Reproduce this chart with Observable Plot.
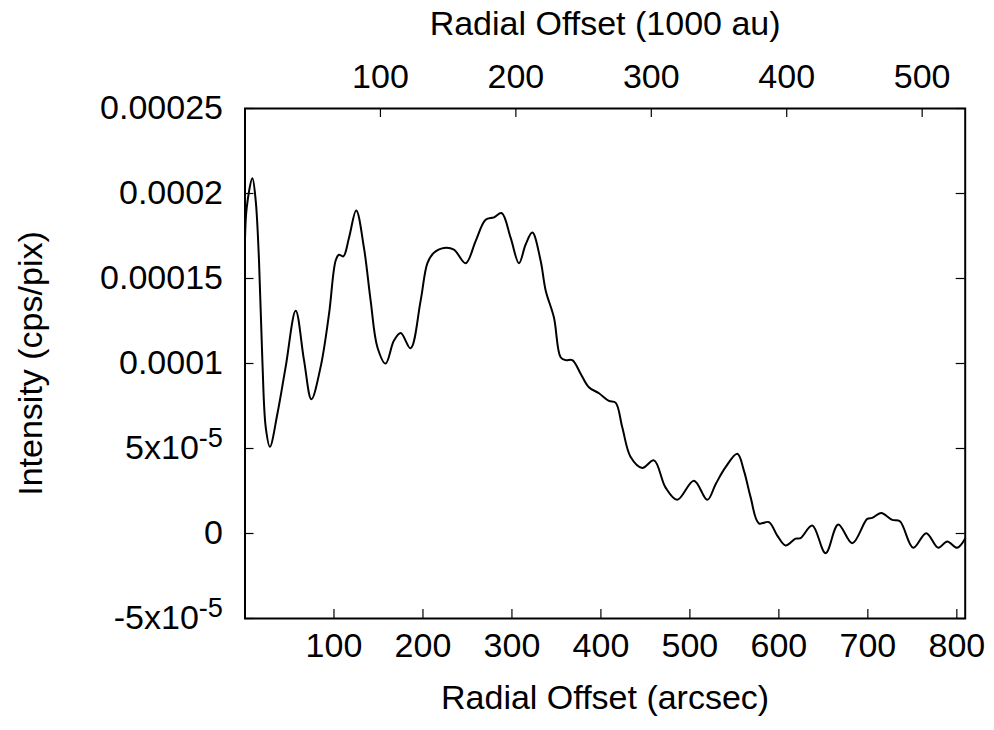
<!DOCTYPE html>
<html>
<head>
<meta charset="utf-8">
<script src="https://cdn.jsdelivr.net/npm/d3@7"></script>
<script src="https://cdn.jsdelivr.net/npm/@observablehq/plot@0.6"></script>
<style>
  html, body { margin: 0; padding: 0; background: #fff; }
  #chart svg { display: block; }
</style>
</head>
<body>
<div id="chart"></div>
<script>
// Radial offset (arcsec)
const offsetArcsec = [
  0, 2, 8.3, 12, 15.7, 19.5, 23.3, 28, 36.4, 45.7, 57, 66.3, 74.6, 85, 94.4,
  101.9, 105.6, 110.5, 116.9, 125, 133.7, 141.2, 148.8, 158, 167.4, 175, 186,
  197.4, 205, 212, 223.6, 234.8, 248, 259.2, 270.4, 279.8, 288.4, 298.5, 307.9,
  315.4, 322.9, 332.2, 337.9, 347.2, 354.7, 360.3, 367.9, 377.2, 386.5, 397.8,
  409, 416.5, 424, 433.4, 446.5, 459.6, 472.7, 485.8, 504.5, 519.6, 528.9,
  540.1, 553.3, 560.7, 568.2, 577.5, 588.8, 598.2, 607.5, 618.8, 624.4, 637.5,
  652.5, 666.7, 682.5, 699.3, 705, 715, 727.4, 736, 751, 765.6, 779, 789.2,
  800.4, 809.4
];
// Intensity in units of 1e-5 cps/pix
const intensityE5 = [
  17.3, 19.2, 20.9, 19.6, 16.1, 10.2, 6.25, 5.1, 7.04, 9.8, 13.1, 10.2, 7.9, 9.8, 12.9,
  16.06, 16.4, 16.3, 17.4, 19.0, 16.8, 13.7, 10.96, 10.0, 11.35, 11.8, 10.9,
  13.7, 15.9, 16.5, 16.8, 16.7, 15.9, 17.2, 18.45, 18.6, 18.85, 17.4, 15.9,
  17.0, 17.7, 16.06, 14.3, 12.7, 10.37, 10.2, 10.2, 9.4, 8.6, 8.25,
  7.8, 7.7, 6.25, 4.5, 3.86, 4.3, 2.7, 1.98, 3.1, 1.98, 2.9,
  3.9, 4.69, 3.7, 2.14, 0.6, 0.67, -0.12, -0.7, -0.3, -0.27, 0.47,
  -1.16, 0.53, -0.57, 0.86, 0.92, 1.2, 0.8, 0.72, -0.84, 0.02, -0.84, -0.47,
  -0.84, -0.3
];
const xTicks = [100, 200, 300, 400, 500, 600, 700, 800];
const auTicks = [100, 200, 300, 400, 500];          // in 1000 au
const distancePc = 657;                               // arcsec -> au conversion
const yTicks = [-5e-5, 0, 5e-5, 1e-4, 1.5e-4, 2e-4, 2.5e-4];
const yTickLabels = ["-5x10^-5", "0", "5x10^-5", "0.0001", "0.00015", "0.0002", "0.00025"];
const xDomain = [0, 809.4];
const yDomain = [-5e-5, 2.5e-4];
const xTitle = "Radial Offset (arcsec)";
const x2Title = "Radial Offset (1000 au)";
const yTitle = "Intensity (cps/pix)";

const data = offsetArcsec.map((x, i) => ({x, y: intensityE5[i] * 1e-5}));
const auTickPos = auTicks.map(v => v * 1000 / distancePc);

const W = 994, H = 730;
const mL = 244.5, mR = 29.3, mT = 108, mB = 112;
const fw = W - mL - mR, fh = H - mT - mB;
const TL = 9;

const chart = Plot.plot({
  width: W, height: H,
  marginLeft: mL, marginRight: mR, marginTop: mT, marginBottom: mB,
  style: {fontFamily: "'Liberation Sans', Arial, sans-serif", fontSize: "34px", color: "black", background: "white"},
  x: {domain: xDomain},
  y: {domain: yDomain},
  marks: [
    Plot.axisX({anchor: "bottom", ticks: xTicks, tickSize: 0, tickPadding: 14, tickFormat: d => String(d),
      label: xTitle, labelAnchor: "center", labelArrow: "none", labelOffset: 90}),
    Plot.axisX({anchor: "top", ticks: auTickPos, tickSize: 0, tickPadding: 21,
      tickFormat: d => String(Math.round(d * distancePc / 1000)),
      label: x2Title, labelAnchor: "center", labelArrow: "none", labelOffset: 98}),
    Plot.axisY({anchor: "left", ticks: yTicks, tickSize: 0, tickPadding: 22,
      tickFormat: d => yTickLabels[yTicks.indexOf(d)],
      label: yTitle, labelAnchor: "center", labelArrow: "none", labelOffset: 227}),
    Plot.ruleX(xTicks, {stroke: "black", strokeWidth: 1.2, insetTop: fh - TL}),
    Plot.ruleX(auTickPos, {stroke: "black", strokeWidth: 1.2, insetBottom: fh - TL}),
    Plot.ruleY(yTicks, {stroke: "black", strokeWidth: 1.2, insetRight: fw - TL}),
    Plot.ruleY(yTicks, {stroke: "black", strokeWidth: 1.2, insetLeft: fw - TL}),
    Plot.line(data, {x: "x", y: "y", stroke: "black", strokeWidth: 2, curve: "catmull-rom"}),
    Plot.frame({stroke: "black", strokeWidth: 2})
  ]
});

chart.querySelectorAll("text").forEach(t => {
  const s = t.textContent;
  const m = s.match(/^(.*)\^(.*)$/);
  if (m) {
    t.textContent = "";
    const a = document.createElementNS("http://www.w3.org/2000/svg", "tspan");
    a.textContent = m[1];
    const b = document.createElementNS("http://www.w3.org/2000/svg", "tspan");
    b.textContent = m[2];
    b.setAttribute("dy", "-0.45em");
    b.setAttribute("font-size", "0.8em");
    t.appendChild(a); t.appendChild(b);
  }
});
document.getElementById("chart").appendChild(chart);
</script>
</body>
</html>
